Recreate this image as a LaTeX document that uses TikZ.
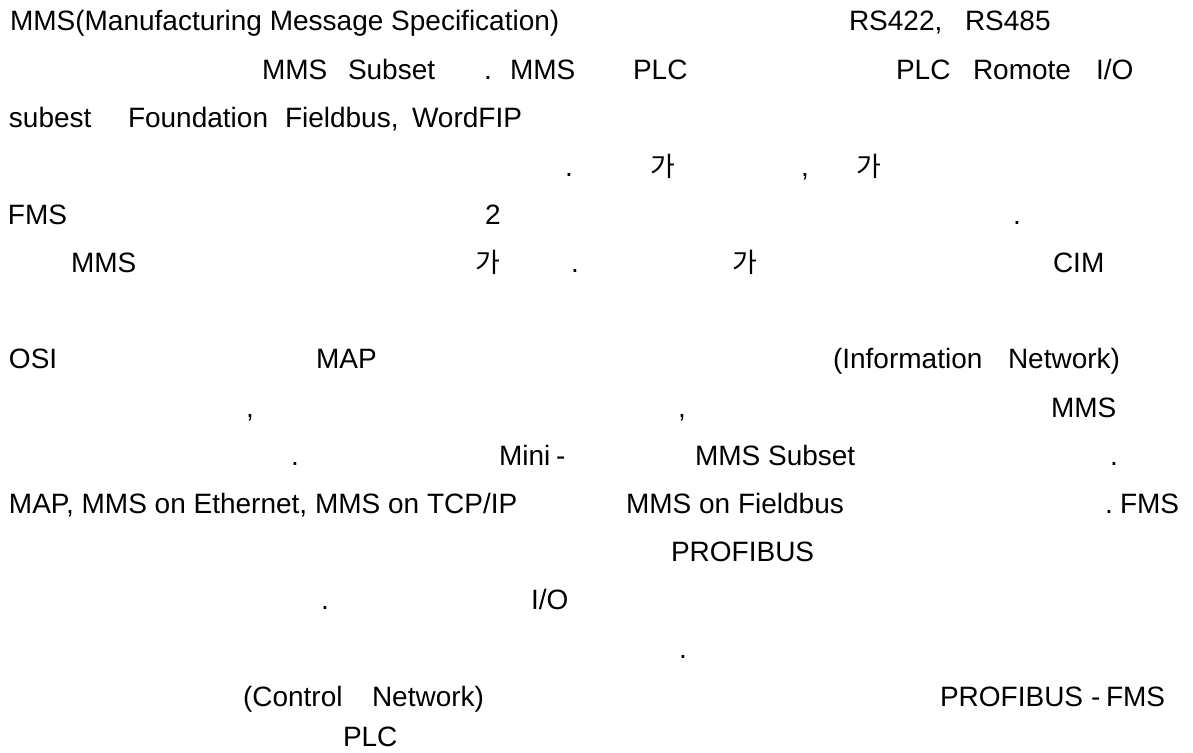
\documentclass[tikz,border=0pt]{standalone}
\usepackage{fontspec}
\setmainfont{Liberation Sans}
\newfontfamily\krfont{Noto Sans CJK KR}
\begin{document}
\begin{tikzpicture}[x=1pt,y=-1pt,
  txt/.style={anchor=base west,inner sep=0pt,outer sep=0pt,
    font=\fontsize{28}{34}\selectfont},
  kr/.style={txt,font=\fontsize{27}{34}\krfont}]
\useasboundingbox (0,0) rectangle (1193,752);
\fill[white] (0,0) rectangle (1193,752);
% line 1
\node[txt] (a1) at (10,31) {MMS(Manufacturing Message Specification)};
\node[txt] (a2) at (849,31) {RS422,};
\node[txt] (a3) at (965,31) {RS485};
% line 2
\node[txt] (b1) at (262,79) {MMS};
\node[txt] (b2) at (348,79) {Subset};
\node[txt] (b3) at (484,79) {.};
\node[txt] (b4) at (510,79) {MMS};
\node[txt] (b5) at (633,79) {PLC};
\node[txt] (b6) at (896,79) {PLC};
\node[txt] (b7) at (973,79) {Romote};
\node[txt] (b8) at (1096,79) {I/O};
% line 3
\node[txt] (c1) at (9,127) {subest};
\node[txt] (c2) at (128,127) {Foundation};
\node[txt] (c3) at (285,127) {Fieldbus,};
\node[txt] (c4) at (412,127) {WordFIP};
% line 4
\node[txt] (d1) at (565,176) {.};
\node[kr]  (d2) at (650,176) {가};
\node[txt] (d3) at (801,176) {,};
\node[kr]  (d4) at (856,176) {가};
% line 5
\node[txt] (e1) at (8,224) {FMS};
\node[txt] (e2) at (485,224) {2};
\node[txt] (e3) at (1013,224) {.};
% line 6
\node[txt] (f1) at (71,272) {MMS};
\node[kr]  (f2) at (475,272) {가};
\node[txt] (f3) at (571,272) {.};
\node[kr]  (f4) at (732,272) {가};
\node[txt] (f5) at (1053,272) {CIM};
% line 8
\node[txt] (g1) at (9,368) {OSI};
\node[txt] (g2) at (316,368) {MAP};
\node[txt] (g3) at (833,368) {(Information};
\node[txt] (g4) at (1008,368) {Network)};
% line 9
\node[txt] (h1) at (246,417) {,};
\node[txt] (h2) at (678,417) {,};
\node[txt] (h3) at (1051,417) {MMS};
% line 10
\node[txt] (i1) at (291,465) {.};
\node[txt] (i2) at (499,465) {Mini};
\node[txt] (i3) at (556,465) {-};
\node[txt] (i4) at (695,465) {MMS Subset};
\node[txt] (i5) at (1110,465) {.};
% line 11
\node[txt] (j1) at (9,513) {MAP, MMS on Ethernet, MMS on TCP/IP};
\node[txt] (j2) at (626,513) {MMS on Fieldbus};
\node[txt] (j3) at (1105,513) {.};
\node[txt] (j4) at (1120,513) {FMS};
% line 12
\node[txt] (k1) at (671,561) {PROFIBUS};
% line 13
\node[txt] (l1) at (321,609) {.};
\node[txt] (l2) at (531,609) {I/O};
% line 14
\node[txt] (m1) at (679,658) {.};
% line 15
\node[txt] (n1) at (243,706) {(Control};
\node[txt] (n2) at (372,706) {Network)};
\node[txt] (n3) at (940,706) {PROFIBUS};
\node[txt] (n4) at (1091,706) {-};
\node[txt] (n5) at (1106,706) {FMS};
% line 16
\node[txt] (o1) at (343,746) {PLC};
\end{tikzpicture}
\end{document}
